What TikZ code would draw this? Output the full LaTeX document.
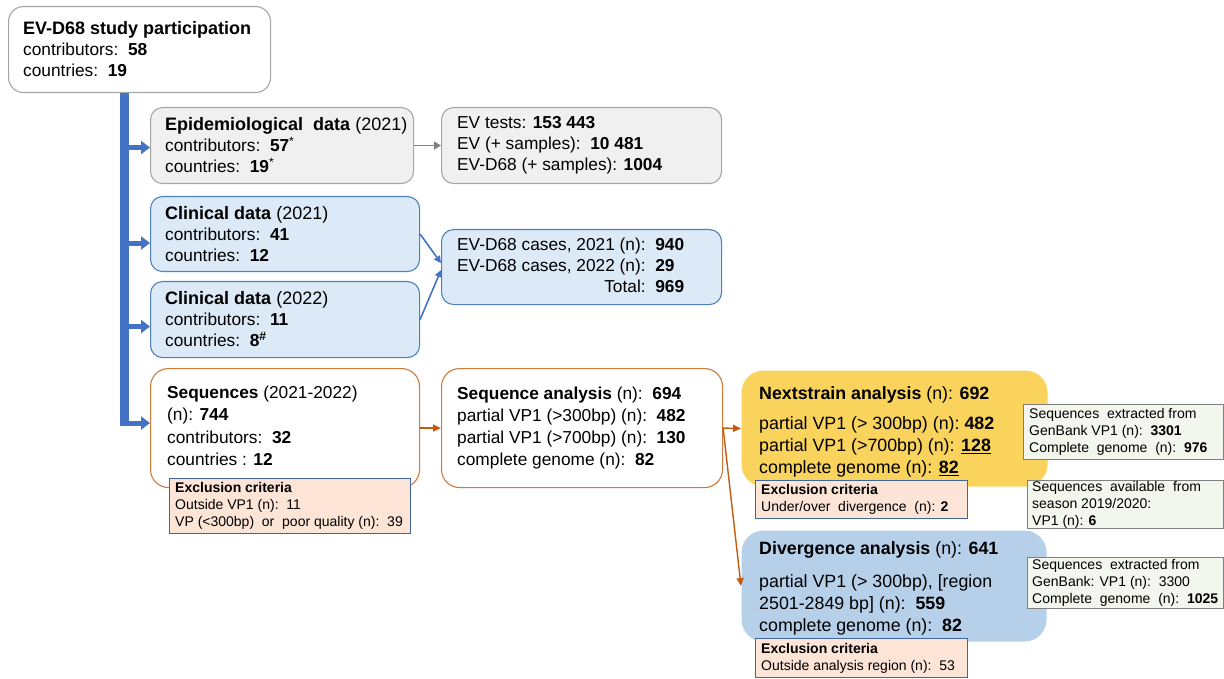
\documentclass[tikz,border=0pt]{standalone}
\usepackage{fontspec}
\setmainfont{Liberation Sans}
\usetikzlibrary{arrows.meta}
\definecolor{grayfill}{HTML}{F0F0F0}
\definecolor{grayline}{HTML}{A6A6A6}
\definecolor{bluefill}{HTML}{DCE9F6}
\definecolor{blueline}{HTML}{4F81BD}
\definecolor{bluearrow}{HTML}{4472C4}
\definecolor{orangeline}{HTML}{D07A3C}
\definecolor{orangearrow}{HTML}{C55A11}
\definecolor{goldfill}{HTML}{F9D35C}
\definecolor{divfill}{HTML}{B7D0EA}
\definecolor{exclfill}{HTML}{FCE4D6}
\definecolor{exclline}{HTML}{41669E}
\definecolor{greenfill}{HTML}{F2F6EC}
\definecolor{greenline}{HTML}{7F7F7F}
\newcommand\bigttl[1]{{\fontsize{18}{21}\selectfont #1}}
\tikzset{
  boxbase/.style={anchor=north west, inner sep=0pt, line width=1.1pt},
  graybox/.style={boxbase, draw=grayline, fill=grayfill, rounded corners=12pt},
  topbox/.style={boxbase, draw=grayline, fill=white, rounded corners=15pt},
  bluebox/.style={boxbase, draw=blueline, fill=bluefill, rounded corners=12pt},
  orangebox/.style={boxbase, draw=orangeline, fill=white, rounded corners=18pt},
  goldbox/.style={boxbase, fill=goldfill, rounded corners=22pt},
  divbox/.style={boxbase, fill=divfill, rounded corners=22pt},
  exclbox/.style={boxbase, draw=exclline, fill=exclfill, line width=0.9pt},
  greenbox/.style={boxbase, draw=greenline, fill=greenfill, line width=0.9pt},
  txt/.style={anchor=west, align=left, inner sep=0pt, font=\fontsize{17.3}{21}\selectfont},
  bigtxt/.style={anchor=west, align=left, inner sep=0pt, font=\fontsize{17.8}{22}\selectfont},
  smalltxt/.style={anchor=west, align=left, inner sep=0pt, font=\fontsize{14}{17}\selectfont},
  trunk/.style={draw=bluearrow, line width=8.5pt},
  branch/.style={draw=bluearrow, line width=5pt, -{Triangle[length=9pt,width=13pt]}},
  thinblue/.style={draw=bluearrow, line width=1.6pt, -{Triangle[length=7pt,width=7pt]}},
  grayarrow/.style={draw=greenline, line width=1.6pt, -{Triangle[length=7pt,width=8pt]}},
  orangearr/.style={draw=orangearrow, line width=1.4pt, -{Triangle[length=8pt,width=7pt]}}
}
\begin{document}
\begin{tikzpicture}[x=1pt,y=-1pt]
\useasboundingbox (0,0) rectangle (1224,679);

% main boxes
\node[topbox, minimum width=262pt, minimum height=86pt] (top) at (8,6) {};
\node[txt] (top-t) at ([xshift=15pt]top.west) {\bigttl{\textbf{EV-D68 study participation}}\\contributors:\ \ \textbf{58}\\countries:\ \ \textbf{19}};

\node[graybox, minimum width=263pt, minimum height=76pt] (epi) at (150,107) {};
\node[txt] (epi-t) at ([xshift=15pt]epi.west) {\bigttl{\textbf{Epidemiological\ \ data} (2021)}\\contributors:\ \ \textbf{57}\textsuperscript{*}\\countries:\ \ \textbf{19}\textsuperscript{*}};

\node[graybox, minimum width=280pt, minimum height=76pt] (evt) at (441,107) {};
\node[txt] (evt-t) at ([xshift=16pt]evt.west) {EV tests: \textbf{153 443}\\EV (+ samples):\ \ \textbf{10 481}\\EV-D68 (+ samples): \textbf{1004}};

\node[bluebox, minimum width=269pt, minimum height=75pt] (clin21) at (150,196) {};
\node[txt] (clin21-t) at ([xshift=15pt]clin21.west) {\bigttl{\textbf{Clinical data} (2021)}\\contributors:\ \ \textbf{41}\\countries:\ \ \textbf{12}};

\node[bluebox, minimum width=269pt, minimum height=76pt] (clin22) at (150,281) {};
\node[txt] (clin22-t) at ([xshift=15pt]clin22.west) {\bigttl{\textbf{Clinical data} (2022)}\\contributors:\ \ \textbf{11}\\countries:\ \ \textbf{8}\textsuperscript{\textbf{\#}}};

\node[bluebox, minimum width=280pt, minimum height=75pt] (cases) at (441,229) {};
\node[txt] (cases-t) at ([xshift=16pt]cases.west) {\begin{tabular}{@{}l@{}}EV-D68 cases, 2021 (n):\ \ \textbf{940}\\EV-D68 cases, 2022 (n):\ \ \textbf{29}\\\multicolumn{1}{@{}r@{}}{Total:\ \ \textbf{969}}\end{tabular}};

\node[orangebox, minimum width=269pt, minimum height=119pt] (seq) at (150,368) {};
\node[txt, font=\fontsize{17.3}{22.5}\selectfont] (seq-t) at ([xshift=17pt,yshift=2pt]seq.west) {\textbf{Sequences} (2021-2022)\\(n): \textbf{744}\\contributors:\ \ \textbf{32}\\countries : \textbf{12}};

\node[orangebox, minimum width=281pt, minimum height=119pt] (seqan) at (441,368) {};
\node[txt, font=\fontsize{17.3}{22}\selectfont] (seqan-t) at ([xshift=16pt]seqan.west) {\textbf{Sequence analysis} (n):\ \ \textbf{694}\\partial VP1 (>300bp) (n):\ \ \textbf{482}\\partial VP1 (>700bp) (n):\ \ \textbf{130}\\complete genome (n):\ \ \textbf{82}};

\node[goldbox, minimum width=306pt, minimum height=116pt] (next) at (741,370) {};
\node[bigtxt] (next-t) at ([xshift=18pt,yshift=-3pt]next.west) {\textbf{Nextstrain analysis} (n): \textbf{692}\\[8pt]partial VP1 (> 300bp) (n):\ \textbf{482}\\partial VP1 (>700bp) (n): \underline{\textbf{128}}\\complete genome (n): \underline{\textbf{82}}};

\node[divbox, minimum width=305pt, minimum height=111pt] (div) at (741,530) {};
\node[bigtxt] (div-t) at ([xshift=18pt,yshift=-2pt]div.west) {\textbf{Divergence analysis} (n): \textbf{641}\\[11pt]partial VP1 (> 300bp), [region\\2501-2849 bp] (n):\ \ \textbf{559}\\complete genome (n):\ \ \textbf{82}};

% small boxes on top
\node[exclbox, minimum width=241pt, minimum height=55pt] (excl1) at (169,478) {};
\node[smalltxt] (excl1-t) at ([xshift=6pt]excl1.west) {\textbf{Exclusion criteria}\\Outside VP1 (n):\ \ 11\\VP (<300bp)\ \ or\ \ poor quality (n):\ \ 39};

\node[exclbox, minimum width=212pt, minimum height=38pt] (excl2) at (755,480) {};
\node[smalltxt] (excl2-t) at ([xshift=6pt]excl2.west) {\textbf{Exclusion criteria}\\Under/over\ \ divergence\ \ (n): \textbf{2}};

\node[exclbox, minimum width=212pt, minimum height=39pt] (excl3) at (755,638) {};
\node[smalltxt] (excl3-t) at ([xshift=6pt]excl3.west) {\textbf{Exclusion criteria}\\Outside analysis region (n):\ \ 53};

\node[greenbox, minimum width=200pt, minimum height=55pt] (g1) at (1023,404) {};
\node[smalltxt] (g1-t) at ([xshift=6pt]g1.west) {Sequences\ \ extracted from\\GenBank VP1 (n):\ \ \textbf{3301}\\Complete\ \ genome\ \ (n):\ \ \textbf{976}};

\node[greenbox, minimum width=196pt, minimum height=48pt] (g2) at (1027,480) {};
\node[smalltxt] (g2-t) at ([xshift=5pt]g2.west) {Sequences\ \ available\ \ from\\season 2019/2020:\\VP1 (n): \textbf{6}};

\node[greenbox, minimum width=196pt, minimum height=51pt] (g3) at (1027,557) {};
\node[smalltxt] (g3-t) at ([xshift=5pt]g3.west) {Sequences\ \ extracted from\\GenBank: VP1 (n):\ \ 3300\\Complete\ \ genome\ \ (n):\ \ \textbf{1025}};

% blue trunk and branches
\coordinate (tk) at ([xshift=-15pt]top.south);
\coordinate (e1) at ([yshift=-2pt]epi.west);
\coordinate (c1) at ([yshift=-9pt]clin21.west);
\coordinate (c2) at ([yshift=-7pt]clin22.west);
\coordinate (s1) at ([yshift=5pt]seq.west);
\coordinate (s1b) at ([yshift=2.5pt]seq.west);
\draw[trunk] (tk) -- (tk |- s1b);
\draw[branch] (tk |- e1) -- (e1);
\draw[branch] (tk |- c1) -- (c1);
\draw[branch] (tk |- c2) -- (c2);
\draw[branch] ([xshift=-4.25pt]tk |- s1) -- (s1);

% other connectors
\draw[grayarrow] (epi.east) -- (evt.west);
\draw[thinblue] (clin21.east) -- ([yshift=4pt]cases.west);
\draw[thinblue] (clin22.east) -- ([yshift=-3pt]cases.west);
\draw[orangearr] (seq.east) -- (seqan.west);
\draw[orangearr] (seqan.east) -- (next.west);
\draw[orangearr] (seqan.east) -- (div.west);
\end{tikzpicture}
\end{document}
